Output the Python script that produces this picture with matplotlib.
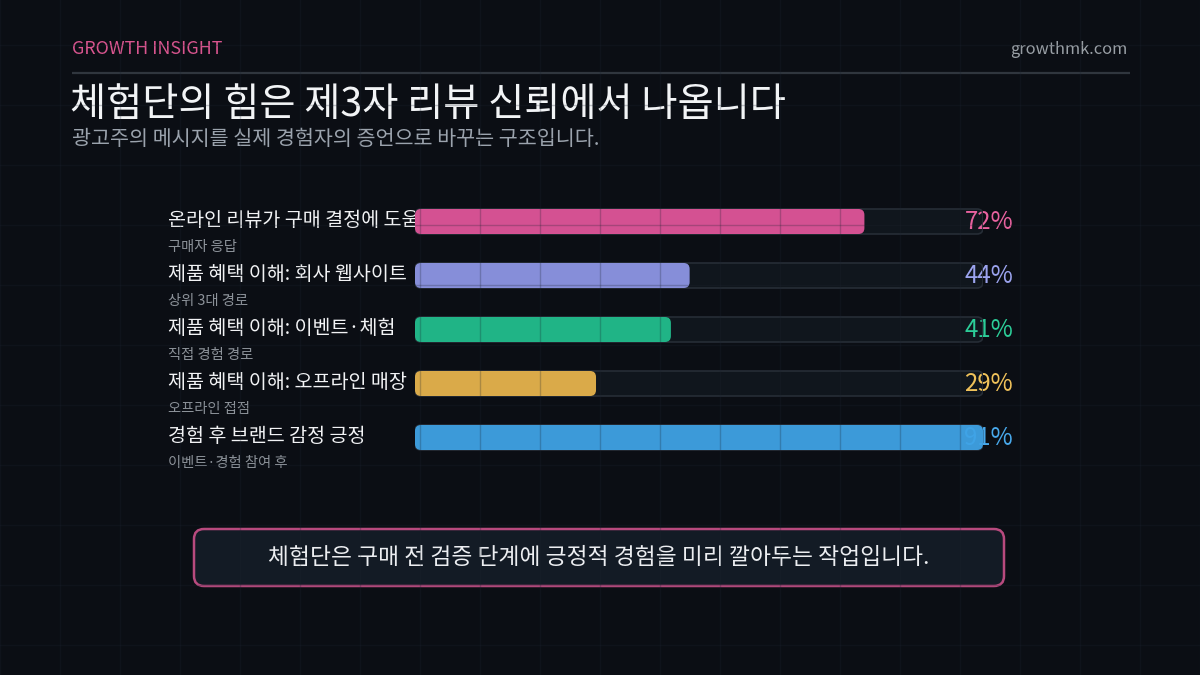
import matplotlib.pyplot as plt
import numpy as np
from matplotlib.patches import FancyBboxPatch
from matplotlib.transforms import blended_transform_factory

plt.rcParams['font.family'] = ['Noto Sans CJK KR', 'DejaVu Sans']

# data
labels = ['온라인 리뷰가 구매 결정에 도움', '제품 혜택 이해: 회사 웹사이트',
          '제품 혜택 이해: 이벤트·체험', '제품 혜택 이해: 오프라인 매장',
          '경험 후 브랜드 감정 긍정']
sublabels = ['구매자 응답', '상위 3대 경로', '직접 경험 경로', '오프라인 접점', '이벤트·경험 참여 후']
values = [72, 44, 41, 29, 91]
bar_colors = ['#e2559a', '#8e96e6', '#22bf8e', '#e8b44c', '#3fa3e6']
value_colors = ['#e8629f', '#9ba3ee', '#2ccd98', '#f0c25a', '#48a9ec']

title = '체험단의 힘은 제3자 리뷰 신뢰에서 나옵니다'
subtitle = '광고주의 메시지를 실제 경험자의 증언으로 바꾸는 구조입니다.'
callout = '체험단은 구매 전 검증 단계에 긍정적 경험을 미리 깔아두는 작업입니다.'

W, H = 1200, 675
BG = '#0b0e14'
fig = plt.figure(figsize=(12, 6.75), dpi=100, facecolor=BG)

# background / header layer in pixel coords
axbg = fig.add_axes([0, 0, 1, 1], zorder=-1)
axbg.set_xlim(0, W)
axbg.set_ylim(H, 0)
axbg.axis('off')

axbg.text(72, 49, 'GROWTH INSIGHT', color='#d9558f', fontsize=12.9, va='center', ha='left')
axbg.text(1127, 49, 'growthmk.com', color='#9aa0a6', fontsize=11.8, va='center', ha='right')
axbg.plot([72, 1130], [73, 73], color='#30363e', lw=1.6, solid_capstyle='butt')
axbg.text(70, 105, title, color='#f2f4f6', fontsize=28.3, va='center', ha='left')
axbg.text(72, 139, subtitle, color='#9ba3ad', fontsize=14.9, va='center', ha='left')

box = FancyBboxPatch((194, 529), 810, 57, boxstyle='round,pad=0,rounding_size=10',
                     facecolor='#131b25', edgecolor='#b84a7e', lw=1.8)
axbg.add_patch(box)
axbg.text(599, 557, callout, color='#eceef1', fontsize=16.4, va='center', ha='center')

# bar area
x0, x1 = 415, 983
top, bot = 194.5, 464.5
ax = fig.add_axes([x0 / W, 1 - bot / H, (x1 - x0) / W, (bot - top) / H])
ax.set_facecolor('none')
xmax = max(values)
ax.set_xlim(0, xmax)
ax.set_ylim(len(values) - 0.5, -0.5)
ax.axis('off')

dx = xmax / (x1 - x0)
dy = len(values) / (bot - top)
bar_h = 25 * dy
r = 6 * dx
asp = dy / dx

lab_tf = blended_transform_factory(fig.transFigure, ax.transData)

for i, (lab, sub, v) in enumerate(zip(labels, sublabels, values)):
    ax.text(168 / W, i - 1.5 * dy, lab, transform=lab_tf, color='#f2f3f5', fontsize=14.1,
            va='center', ha='left', zorder=1, clip_on=False)
    ax.text(168 / W, i + 26 * dy, sub, transform=lab_tf, color='#8d939a', fontsize=10.3,
            va='center', ha='left', zorder=1, clip_on=False)
    track = FancyBboxPatch((0, i - bar_h / 2), xmax, bar_h,
                           boxstyle=f'round,pad=0,rounding_size={r}', mutation_aspect=asp,
                           facecolor='#10161d', edgecolor='none', zorder=2)
    ax.add_patch(track)
    ax.text(1013 / W, i + 0.5 * dy, f'{v}%', transform=lab_tf, color=value_colors[i],
            fontsize=17.3, va='center', ha='right', zorder=2.5, clip_on=False)
    edge = FancyBboxPatch((0, i - bar_h / 2), xmax, bar_h,
                          boxstyle=f'round,pad=0,rounding_size={r}', mutation_aspect=asp,
                          facecolor='none', edgecolor='#262d36', lw=1.2, zorder=2.6)
    ax.add_patch(edge)
    bar = FancyBboxPatch((0, i - bar_h / 2), v, bar_h,
                         boxstyle=f'round,pad=0,rounding_size={r}', mutation_aspect=asp,
                         facecolor=bar_colors[i], edgecolor='none', alpha=0.94, zorder=3)
    ax.add_patch(bar)

# faint overlay grid
axg = fig.add_axes([0, 0, 1, 1], zorder=10)
axg.set_xlim(0, W)
axg.set_ylim(H, 0)
axg.axis('off')
axg.set_facecolor('none')
for gx in np.arange(0, W + 1, 60):
    axg.axvline(gx, color='#1c2430', alpha=0.25, lw=1)
for gy in np.arange(45, H, 60):
    axg.axhline(gy, color='#1c2430', alpha=0.25, lw=1)

fig.savefig('out.png', dpi=100, facecolor=BG)
